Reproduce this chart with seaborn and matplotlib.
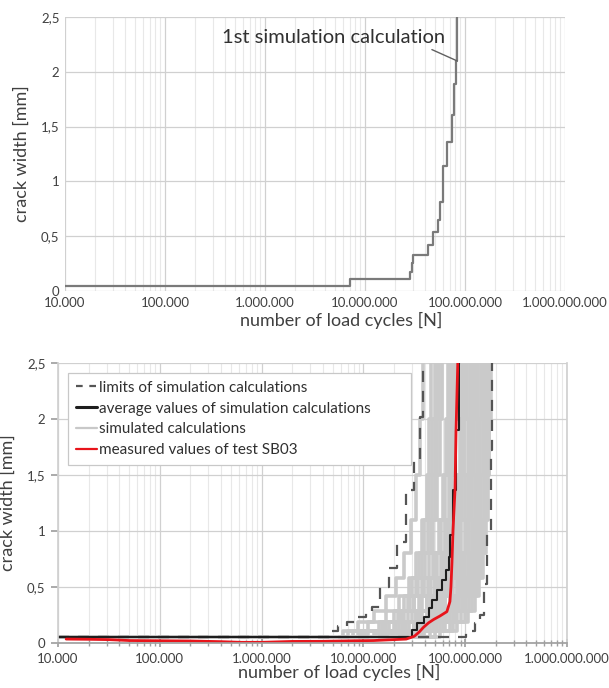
import numpy as np
import pandas as pd
import matplotlib
matplotlib.use("Agg")
import matplotlib.pyplot as plt
from matplotlib.lines import Line2D
from matplotlib.ticker import LogLocator, NullFormatter
import seaborn as sns

# ---------------- data (log10 of load cycles, crack width in mm) ----------------
# top panel: 1st simulation calculation (step curve)
first_sim_logN = [4.0, 6.85, 7.45, 7.465, 7.48, 7.63, 7.68, 7.73, 7.75, 7.78, 7.82, 7.87, 7.89, 7.91, 7.92]
first_sim_w = [0.05, 0.11, 0.17, 0.26, 0.33, 0.42, 0.54, 0.65, 0.81, 1.14, 1.36, 1.61, 1.89, 2.10, 2.60]

# bottom panel
avg_logN = [4.0, 7.48, 7.53, 7.60, 7.64, 7.67, 7.72, 7.77, 7.81, 7.84, 7.85, 7.88, 7.91, 7.94]
avg_w = [0.056, 0.116, 0.176, 0.235, 0.31, 0.38, 0.47, 0.56, 0.65, 0.77, 0.96, 1.37, 1.90, 2.60]

lim_low_logN = [4.0, 6.67, 6.75, 6.84, 6.93, 7.03, 7.08, 7.16, 7.25, 7.33, 7.42, 7.50, 7.56, 7.59]
lim_low_w = [0.056, 0.11, 0.15, 0.19, 0.235, 0.28, 0.32, 0.50, 0.67, 0.90, 1.37, 1.63, 2.02, 2.60]

lim_high_logN = [4.0, 8.01, 8.10, 8.15, 8.18, 8.21, 8.25, 8.26]
lim_high_w = [0.056, 0.11, 0.18, 0.25, 0.53, 0.98, 1.72, 2.60]

meas_logN = [4.08, 4.3, 4.5, 4.7, 5.0, 5.3, 5.6, 5.8, 6.0, 6.3, 6.6, 6.9, 7.1, 7.3, 7.42,
             7.50, 7.55, 7.59, 7.64, 7.69, 7.75, 7.82, 7.85, 7.86, 7.87, 7.88, 7.90, 7.91, 7.93]
meas_w = [0.035, 0.033, 0.03, 0.022, 0.02, 0.018, 0.012, 0.006, 0.006, 0.014, 0.015, 0.02, 0.022, 0.03, 0.035,
          0.06, 0.10, 0.14, 0.18, 0.21, 0.24, 0.28, 0.37, 0.50, 0.72, 1.00, 1.37, 1.90, 2.60]

# simulated calculations: common crack-width levels, per-run log10(N) at which each next level is reached
sim_levels = [0.056, 0.11, 0.19, 0.29, 0.42, 0.58, 0.80, 1.10, 1.50, 2.00, 2.60]
sim_runs = {
    "s01": [6.80, 6.95, 7.10, 7.22, 7.32, 7.40, 7.47, 7.52, 7.56, 7.59],
    "s02": [6.95, 7.15, 7.30, 7.40, 7.48, 7.55, 7.60, 7.64, 7.67, 7.70],
    "s03": [7.05, 7.25, 7.40, 7.50, 7.58, 7.64, 7.68, 7.72, 7.75, 7.77],
    "s04": [7.15, 7.35, 7.48, 7.58, 7.66, 7.72, 7.76, 7.80, 7.82, 7.84],
    "s05": [7.25, 7.45, 7.58, 7.68, 7.75, 7.80, 7.84, 7.87, 7.89, 7.91],
    "s06": [7.35, 7.55, 7.68, 7.78, 7.85, 7.90, 7.94, 7.97, 7.99, 8.01],
    "s07": [7.45, 7.65, 7.78, 7.88, 7.95, 8.00, 8.04, 8.07, 8.09, 8.11],
    "s08": [7.55, 7.75, 7.88, 7.97, 8.04, 8.09, 8.12, 8.15, 8.17, 8.19],
    "s09": [7.70, 7.88, 8.00, 8.07, 8.12, 8.16, 8.19, 8.21, 8.23, 8.24],
    "s10": [7.30, 7.60, 7.75, 7.85, 7.92, 7.98, 8.03, 8.06, 8.08, 8.10],
    "s11": [7.10, 7.40, 7.55, 7.66, 7.74, 7.81, 7.87, 7.92, 7.96, 7.99],
    "s12": [7.60, 7.80, 7.92, 8.01, 8.08, 8.13, 8.16, 8.18, 8.20, 8.22],
    "s13": [7.40, 7.62, 7.72, 7.80, 7.86, 7.92, 7.96, 8.00, 8.03, 8.05],
    "s14": [7.20, 7.50, 7.65, 7.74, 7.80, 7.86, 7.90, 7.94, 7.98, 8.02],
    "s15": [7.50, 7.70, 7.82, 7.92, 8.00, 8.05, 8.09, 8.12, 8.14, 8.16],
    "s16": [6.90, 7.20, 7.38, 7.50, 7.60, 7.68, 7.74, 7.78, 7.81, 7.83],
    "s17": [7.00, 7.32, 7.52, 7.62, 7.70, 7.77, 7.82, 7.85, 7.88, 7.93],
    "s18": [7.65, 7.85, 7.96, 8.04, 8.10, 8.14, 8.17, 8.19, 8.21, 8.23],
    "s19": [6.85, 7.05, 7.22, 7.35, 7.45, 7.52, 7.58, 7.62, 7.64, 7.66],
    "s20": [7.12, 7.30, 7.44, 7.55, 7.63, 7.70, 7.75, 7.79, 7.83, 7.86],
    "s21": [7.28, 7.50, 7.62, 7.71, 7.78, 7.84, 7.89, 7.93, 7.95, 7.97],
    "s22": [7.38, 7.58, 7.70, 7.80, 7.88, 7.95, 8.00, 8.03, 8.05, 8.07],
    "s23": [7.48, 7.68, 7.80, 7.90, 7.98, 8.03, 8.07, 8.10, 8.12, 8.13],
    "s24": [7.58, 7.78, 7.90, 7.99, 8.06, 8.11, 8.14, 8.16, 8.18, 8.20],
    "s25": [7.02, 7.22, 7.36, 7.46, 7.54, 7.61, 7.66, 7.70, 7.72, 7.74],
    "s26": [7.22, 7.42, 7.56, 7.66, 7.73, 7.79, 7.83, 7.86, 7.88, 7.89],
    "s27": [7.33, 7.53, 7.66, 7.76, 7.83, 7.88, 7.92, 7.95, 7.97, 7.99],
    "s28": [7.43, 7.63, 7.76, 7.86, 7.93, 7.98, 8.02, 8.05, 8.07, 8.09],
    "s29": [7.52, 7.72, 7.85, 7.94, 8.02, 8.07, 8.10, 8.13, 8.15, 8.17],
    "s30": [7.75, 7.92, 8.03, 8.10, 8.14, 8.17, 8.20, 8.22, 8.23, 8.25],
    "s31": [6.98, 7.18, 7.34, 7.44, 7.52, 7.58, 7.63, 7.67, 7.70, 7.72],
    "s32": [7.18, 7.38, 7.52, 7.62, 7.70, 7.76, 7.80, 7.84, 7.86, 7.88],
}

x_ticks_logN = [4, 5, 6, 7, 8, 9]
x_tick_labels = ["10.000", "100.000", "1.000.000", "10.000.000", "100.000.000", "1.000.000.000"]
y_ticks = [0, 0.5, 1, 1.5, 2, 2.5]
y_tick_labels = ["0", "0,5", "1", "1,5", "2", "2,5"]

legend_labels = ["limits of simulation calculations", "average values of simulation calculations",
                 "simulated calculations", "measured values of test SB03"]

# ---------------- styling ----------------
sns.set_theme(style="white")
plt.rcParams["font.family"] = ["Lato", "DejaVu Sans"]
text_col = "#404040"

fig = plt.figure(figsize=(6.09, 6.88), dpi=100)
ax1 = fig.add_axes([65 / 609, 1 - 291 / 688, 500 / 609, 274 / 688])
ax2 = fig.add_axes([58 / 609, 1 - 643 / 688, 509 / 609, 280 / 688])


def style_axes(ax, bottom_ticks=False):
    ax.set_xscale("log")
    ax.set_xlim(1e4, 1e9)
    ax.set_ylim(0, 2.5)
    ax.set_xticks([10.0 ** v for v in x_ticks_logN])
    ax.set_xticklabels(x_tick_labels)
    ax.xaxis.set_minor_locator(LogLocator(base=10, subs=np.arange(2, 10), numticks=20))
    ax.xaxis.set_minor_formatter(NullFormatter())
    ax.set_yticks(y_ticks)
    ax.set_yticklabels(y_tick_labels)
    ax.grid(True, which="major", color="#d0d0d0", lw=0.9)
    ax.grid(True, which="minor", axis="x", color="#e8e8e8", lw=0.8)
    ax.set_axisbelow(True)
    for s in ax.spines.values():
        s.set_visible(False)
    if bottom_ticks:
        ax.spines["bottom"].set_visible(True)
        ax.spines["bottom"].set_color("#a0a0a0")
        ax.spines["right"].set_visible(True)
        ax.spines["right"].set_color("#d0d0d0")
        ax.spines["left"].set_visible(True)
        ax.spines["left"].set_color("#d0d0d0")
        ax.tick_params(axis="x", which="both", direction="inout", bottom=True, color="#a0a0a0")
        ax.tick_params(axis="x", which="major", length=6)
        ax.tick_params(axis="x", which="minor", length=4)
        ax.tick_params(axis="y", which="major", left=True, length=5, color="#a0a0a0", direction="out")
    else:
        ax.tick_params(axis="both", which="both", length=0)
    ax.tick_params(axis="both", labelsize=9.5, labelcolor=text_col, pad=4)
    ax.set_xlabel("number of load cycles [N]", fontsize=13, color=text_col, labelpad=2)
    ax.xaxis.set_label_coords(0.552, -0.075)
    ax.set_ylabel("crack width [mm]", fontsize=13, color=text_col, labelpad=8)


# ---------------- top panel ----------------
df_first = pd.DataFrame({"N": [10.0 ** v for v in first_sim_logN], "w": first_sim_w})
sns.lineplot(data=df_first, x="N", y="w", ax=ax1, color="#7a7a7a", lw=1.6,
             drawstyle="steps-post", estimator=None, sort=False)
style_axes(ax1)
ax1.annotate("1st simulation calculation", xy=(10.0 ** first_sim_logN[-1], first_sim_w[-2]),
             xytext=(10.0 ** 7.80, 2.31), ha="right", va="center", fontsize=14.5, color="#303030",
             arrowprops=dict(arrowstyle="-", color="#606060", lw=1.0, relpos=(0.9, 0.05),
                             shrinkA=0, shrinkB=0))

# ---------------- bottom panel ----------------
rows = []
for run, brk in sim_runs.items():
    xs = [4.0] + brk
    for lx, w in zip(xs, sim_levels):
        rows.append({"run": run, "N": 10.0 ** lx, "w": w})
df_sim = pd.DataFrame(rows)
sns.lineplot(data=df_sim, x="N", y="w", units="run", estimator=None, ax=ax2, color="#cacaca",
             lw=2.6, drawstyle="steps-post", sort=False)

df_lo = pd.DataFrame({"N": [10.0 ** v for v in lim_low_logN], "w": lim_low_w})
df_hi = pd.DataFrame({"N": [10.0 ** v for v in lim_high_logN], "w": lim_high_w})
for d in (df_lo, df_hi):
    sns.lineplot(data=d, x="N", y="w", ax=ax2, color="#555555", lw=1.6, dashes=False,
                 linestyle=(0, (5, 4)), drawstyle="steps-post", estimator=None, sort=False)

df_avg = pd.DataFrame({"N": [10.0 ** v for v in avg_logN], "w": avg_w})
sns.lineplot(data=df_avg, x="N", y="w", ax=ax2, color="#1e1e1e", lw=1.5,
             drawstyle="steps-post", estimator=None, sort=False)

df_meas = pd.DataFrame({"N": [10.0 ** v for v in meas_logN], "w": meas_w})
sns.lineplot(data=df_meas, x="N", y="w", ax=ax2, color="#e8141b", lw=2.0,
             estimator=None, sort=False)

style_axes(ax2, bottom_ticks=True)

handles = [
    Line2D([], [], color="#555555", lw=1.6, linestyle=(0, (3, 3))),
    Line2D([], [], color="#1e1e1e", lw=2.2),
    Line2D([], [], color="#c8c8c8", lw=1.6),
    Line2D([], [], color="#e8141b", lw=1.6),
]
leg = ax2.legend(handles, legend_labels, loc="upper left", bbox_to_anchor=(0.014, 0.975, 0.685, 0),
                 mode="expand", fontsize=11, frameon=True, fancybox=False, handlelength=1.4,
                 handletextpad=0.1, borderpad=0.5, labelspacing=0.45, borderaxespad=0.2)
leg.get_frame().set_edgecolor("#c8c8c8")
leg.get_frame().set_linewidth(0.9)
leg.get_frame().set_alpha(1.0)
for t in leg.get_texts():
    t.set_color("#303030")

fig.savefig("out.png", dpi=100)
